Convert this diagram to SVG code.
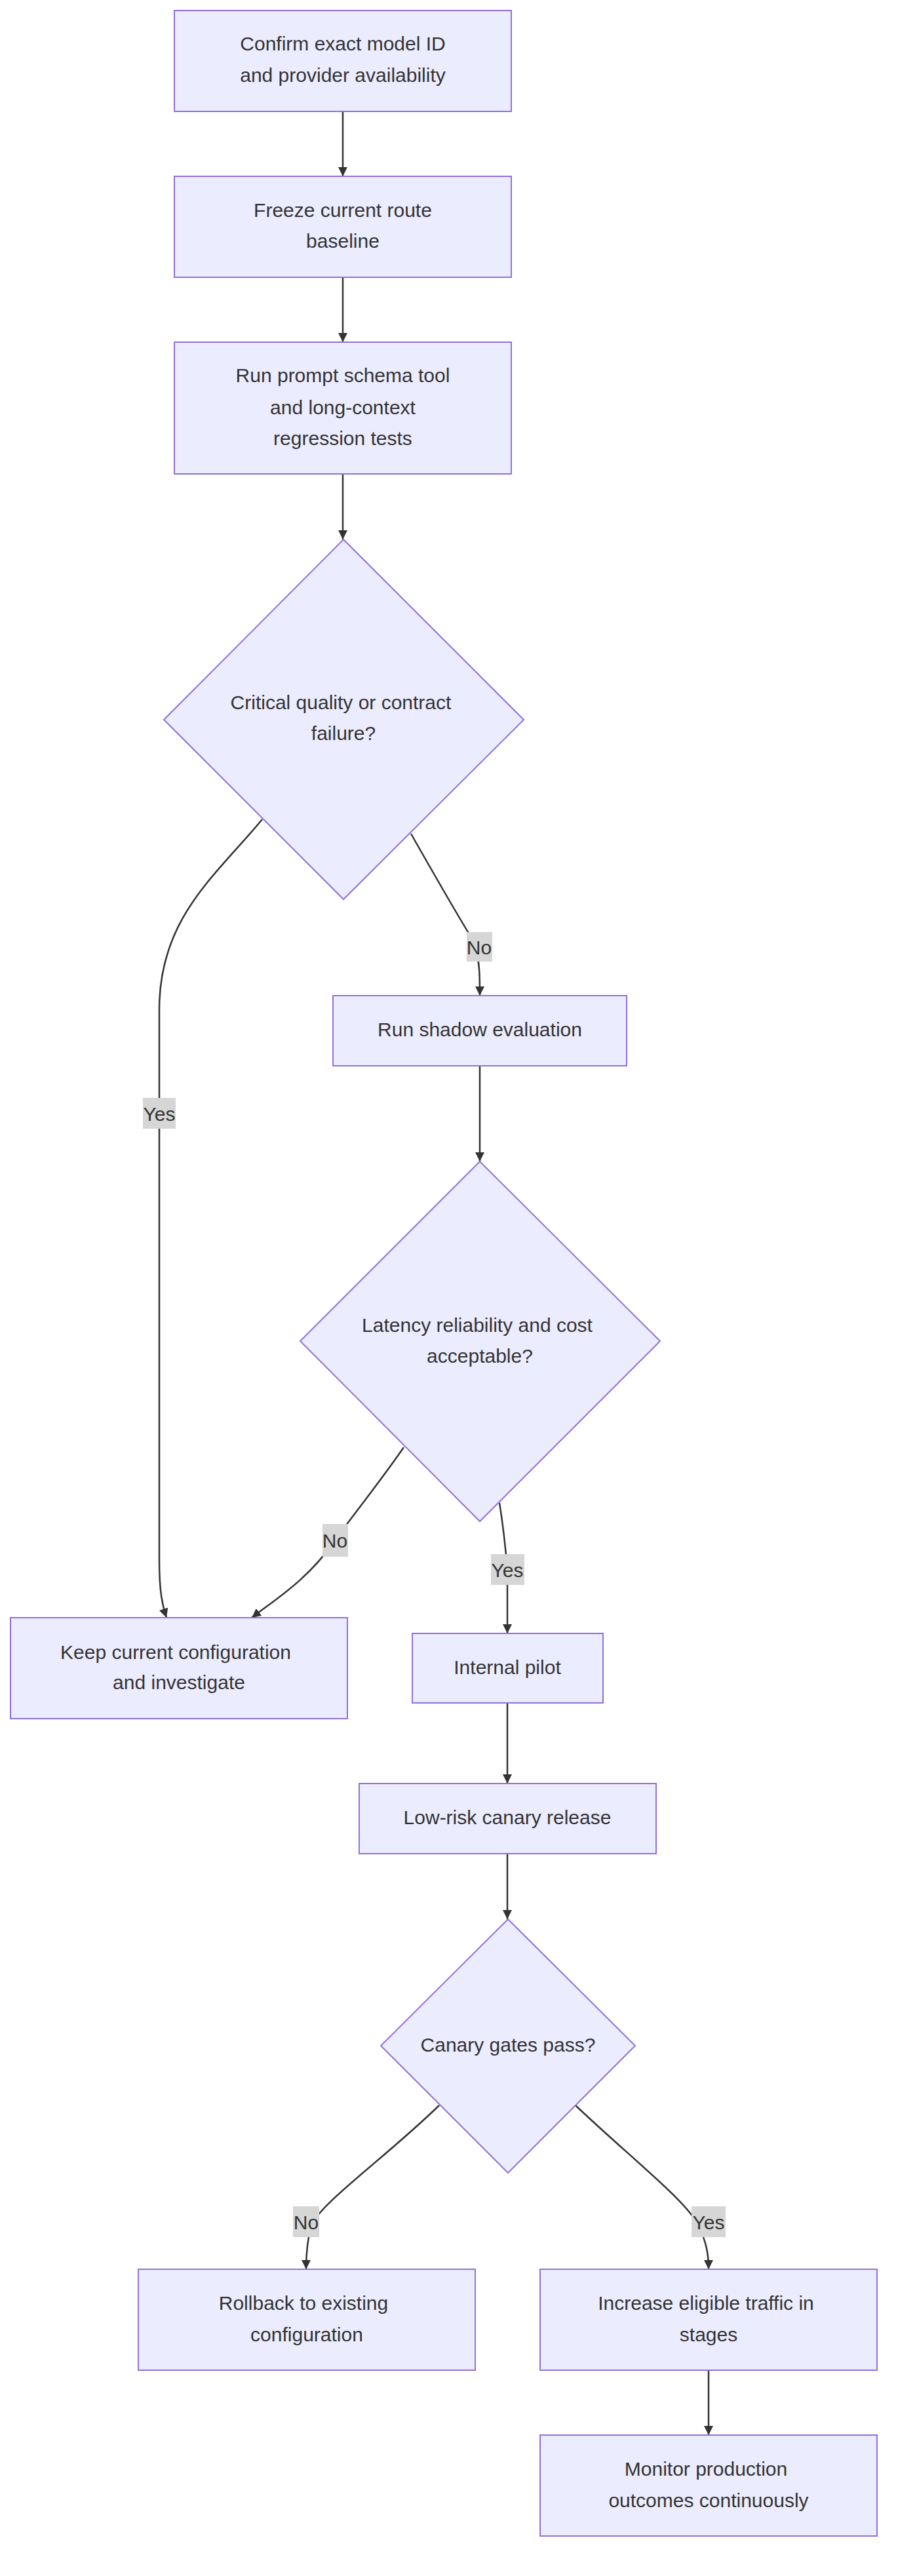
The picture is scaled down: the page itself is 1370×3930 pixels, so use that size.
<svg xmlns="http://www.w3.org/2000/svg" width="1370" height="3930" viewBox="0 0 1370 3930">
<defs>
<marker id="arr" markerUnits="userSpaceOnUse" markerWidth="16" markerHeight="16" refX="14" refY="7" orient="auto"><path d="M0,0 L14,7 L0,14 z" fill="#333"/></marker>
<style>
.n{fill:#ECECFF;stroke:#9370DB;stroke-width:2}
.t{font-family:"Liberation Sans",Arial,sans-serif;font-size:30px;fill:#333;text-anchor:middle;dominant-baseline:central}
.e{fill:none;stroke:#333;stroke-width:2.5;marker-end:url(#arr)}
.lb{fill:#d6d6d6}
.lt{font-family:"Liberation Sans",Arial,sans-serif;font-size:30px;fill:#333;text-anchor:middle;dominant-baseline:central}
</style>
</defs>
<rect width="1370" height="3930" fill="#fff"/>
<g id="edges">
<path class="e" d="M523,170 L523,269"/>
<path class="e" d="M523,423 L523,522"/>
<path class="e" d="M523,723 L523,823"/>
<path class="e" d="M400,1250 C330,1335 243,1400 243,1540 L243,2380 C243,2430 248,2450 254,2468"/>
<path class="e" d="M627,1272 C660,1330 700,1400 725,1440 C732,1470 732,1490 732,1519"/>
<path class="e" d="M732,1626 L732,1772"/>
<path class="e" d="M616,2208 C580,2260 540,2310 511,2350 C470,2410 420,2440 384,2468"/>
<path class="e" d="M762,2293 C768,2330 772,2370 774,2395 L774,2492"/>
<path class="e" d="M774,2598 L774,2721"/>
<path class="e" d="M774,2828 L774,2928"/>
<path class="e" d="M670,3212 C590,3290 490,3360 475,3395 C468,3420 467,3440 467,3462"/>
<path class="e" d="M878,3212 C960,3290 1050,3360 1065,3395 C1078,3420 1081,3440 1081,3462"/>
<path class="e" d="M1081,3616 L1081,3715"/>
<rect class="lb" x="218" y="1675" width="50" height="47"/><text class="lt" x="243" y="1699">Yes</text>
<rect class="lb" x="712" y="1422" width="39" height="45"/><text class="lt" x="731" y="1445">No</text>
<rect class="lb" x="492" y="2325" width="39" height="50"/><text class="lt" x="511" y="2350">No</text>
<rect class="lb" x="749" y="2371" width="51" height="47"/><text class="lt" x="774" y="2395">Yes</text>
<rect class="lb" x="447" y="3366" width="40" height="47"/><text class="lt" x="467" y="3390">No</text>
<rect class="lb" x="1055" y="3366" width="52" height="47"/><text class="lt" x="1081" y="3390">Yes</text>
</g>
<g id="n1"><rect class="n" x="266" y="16" width="514" height="154"/><text class="t" x="523" y="66">Confirm exact model ID</text><text class="t" x="523" y="114">and provider availability</text></g>
<g id="n2"><rect class="n" x="266" y="269" width="514" height="154"/><text class="t" x="523" y="320">Freeze current route</text><text class="t" x="523" y="367">baseline</text></g>
<g id="n3"><rect class="n" x="266" y="522" width="514" height="201"/><text class="t" x="523" y="572">Run prompt schema tool</text><text class="t" x="523" y="621">and long-context</text><text class="t" x="523" y="668">regression tests</text></g>
<g id="d1"><polygon class="n" points="524,823 799,1098 524,1372 250,1098"/><text class="t" x="520" y="1071">Critical quality or contract</text><text class="t" x="524" y="1118">failure?</text></g>
<g id="n4"><rect class="n" x="508" y="1519" width="448" height="107"/><text class="t" x="732" y="1570">Run shadow evaluation</text></g>
<g id="d2"><polygon class="n" points="732,1772 1007,2046 732,2321 458,2046"/><text class="t" x="728" y="2021">Latency reliability and cost</text><text class="t" x="732" y="2068">acceptable?</text></g>
<g id="n5"><rect class="n" x="16" y="2468" width="514" height="154"/><text class="t" x="268" y="2520">Keep current configuration</text><text class="t" x="273" y="2566">and investigate</text></g>
<g id="n6"><rect class="n" x="629" y="2492" width="291" height="106"/><text class="t" x="774" y="2543">Internal pilot</text></g>
<g id="n7"><rect class="n" x="548" y="2721" width="453" height="107"/><text class="t" x="774" y="2772">Low-risk canary release</text></g>
<g id="d3"><polygon class="n" points="775,2928 969,3121 775,3315 581,3121"/><text class="t" x="775" y="3119">Canary gates pass?</text></g>
<g id="n8"><rect class="n" x="211" y="3462" width="514" height="154"/><text class="t" x="463" y="3513">Rollback to existing</text><text class="t" x="468" y="3561">configuration</text></g>
<g id="n9"><rect class="n" x="824" y="3462" width="514" height="154"/><text class="t" x="1077" y="3513">Increase eligible traffic in</text><text class="t" x="1081" y="3561">stages</text></g>
<g id="n10"><rect class="n" x="824" y="3715" width="514" height="154"/><text class="t" x="1077" y="3766">Monitor production</text><text class="t" x="1081" y="3814">outcomes continuously</text></g>
</svg>
